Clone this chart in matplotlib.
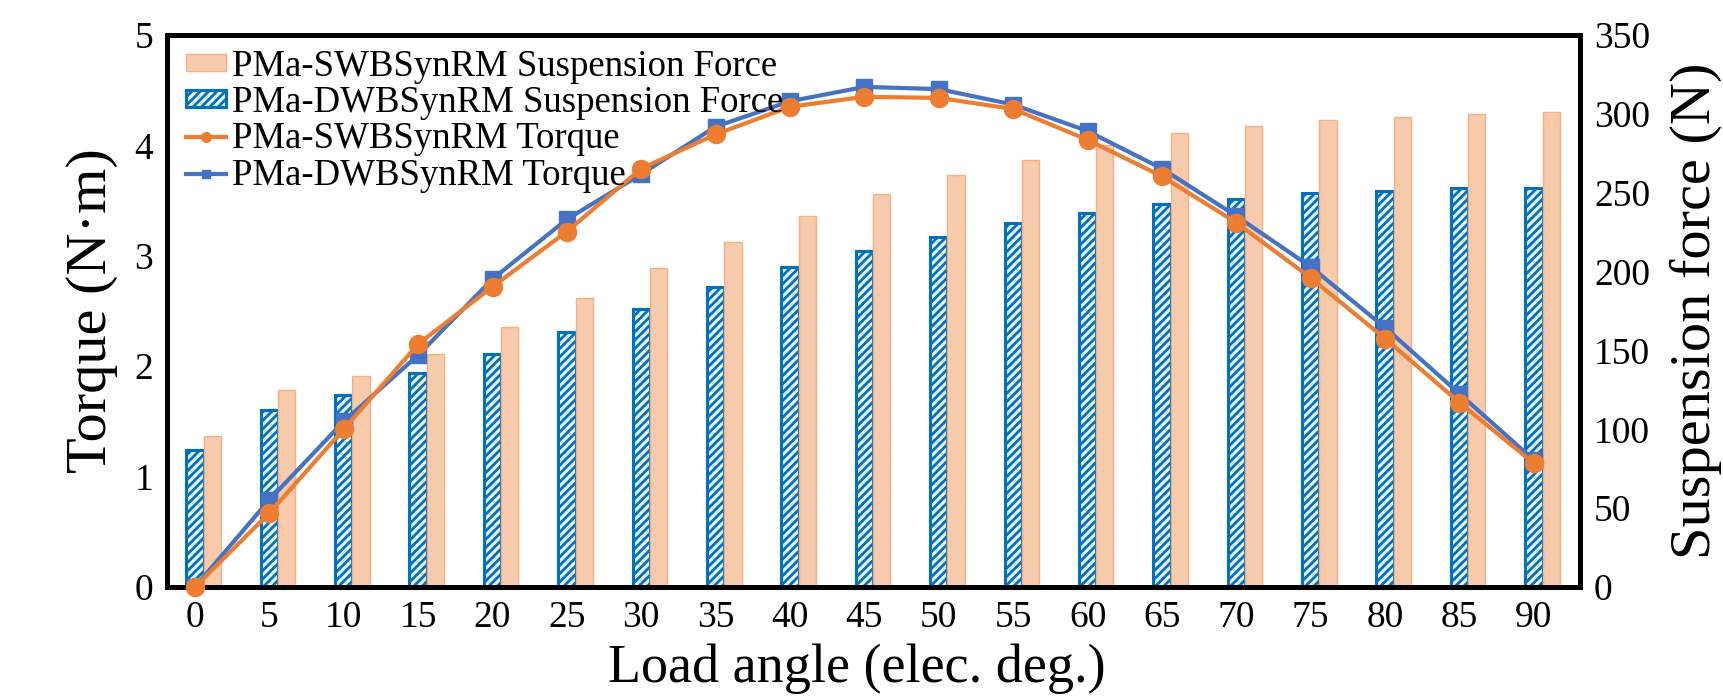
import matplotlib
matplotlib.use("Agg")
import matplotlib.pyplot as plt
import numpy as np
from matplotlib.patches import Patch
from matplotlib.lines import Line2D

plt.rcParams['font.family'] = ['Liberation Serif', 'DejaVu Serif']
plt.rcParams['hatch.linewidth'] = 2.0

# ---- data ----
angles = [0, 5, 10, 15, 20, 25, 30, 35, 40, 45, 50, 55, 60, 65, 70, 75, 80, 85, 90]
dwb_force = [87, 112, 122, 136, 148, 162, 176, 190, 203, 213, 222, 231, 237, 243, 246, 250, 251, 253, 253]
swb_force = [96, 125, 134, 148, 165, 183, 202, 219, 235, 249, 261, 271, 280, 288, 292, 296, 298, 300, 301]
swb_torque = [0.0, 0.67, 1.43, 2.20, 2.72, 3.22, 3.79, 4.10, 4.35, 4.44, 4.43, 4.33, 4.05, 3.72, 3.30, 2.80, 2.25, 1.67, 1.12]
dwb_torque = [0.0, 0.79, 1.50, 2.10, 2.79, 3.33, 3.74, 4.17, 4.40, 4.53, 4.51, 4.37, 4.13, 3.79, 3.36, 2.90, 2.35, 1.75, 1.15]
torque_ticks = [0, 1, 2, 3, 4, 5]
force_ticks = [0, 50, 100, 150, 200, 250, 300, 350]

labels = ['PMa-SWBSynRM Suspension Force', 'PMa-DWBSynRM Suspension Force',
          'PMa-SWBSynRM Torque', 'PMa-DWBSynRM Torque']

blue_bar = '#0070C0'
blue_bar_face = '#EAF6FD'
orange_bar_face = '#F8CBAD'
orange_bar_edge = '#F4B183'
orange_line = '#ED7D31'
blue_line = '#4472C4'

fig = plt.figure(figsize=(17.23, 6.99), dpi=100)
ax = fig.add_axes([167/1723, 1-587/699, (1580-167)/1723, (587-35)/699])
ax2 = ax.twinx()

x = np.arange(len(angles))
w = 0.232

ax2.bar(x, dwb_force, width=w, facecolor=blue_bar_face, edgecolor=blue_bar,
        linewidth=2.2, hatch='////', zorder=2)
ax2.bar(x + w, swb_force, width=w, facecolor=orange_bar_face, edgecolor=orange_bar_edge,
        linewidth=1.0, zorder=2)
ax2.set_ylim(0, 350)
ax2.set_yticks(force_ticks)

ax.plot(x, dwb_torque, color=blue_line, linewidth=3.0, marker='s', markersize=12,
        zorder=3)
ax.plot(x, swb_torque, color=orange_line, linewidth=3.0, marker='o', markersize=13,
        zorder=4, clip_on=False)
ax.set_ylim(0, 5)
ax.set_yticks(torque_ticks)
ax.set_xlim(-0.376, 18.62)
ax.set_xticks(x)
ax.set_xticklabels([str(a) for a in angles])

ax.set_zorder(ax2.get_zorder() + 1)
ax.patch.set_visible(False)

for a in (ax, ax2):
    a.tick_params(axis='both', length=0, labelsize=27, pad=10)
    for s in a.spines.values():
        s.set_linewidth(3.6)
        s.set_color('black')

ax.set_xlabel('Load angle (elec. deg.)', fontsize=39)
ax.xaxis.set_label_coords((857-167)/1413, -(643-587)/552)
ax.set_ylabel('Torque (N·m)', fontsize=42, labelpad=12)
ax2.set_ylabel('Suspension force (N)', fontsize=42, labelpad=14)

handles = [
    Patch(facecolor=orange_bar_face, edgecolor=orange_bar_edge, linewidth=1.0),
    Patch(facecolor=blue_bar_face, edgecolor=blue_bar, linewidth=2.2, hatch='////'),
    Line2D([0], [0], color=orange_line, linewidth=3.0, marker='o', markersize=7),
    Line2D([0], [0], color=blue_line, linewidth=3.0, marker='s', markersize=6),
]
leg = ax.legend(handles, labels, loc='upper left', bbox_to_anchor=(186/1723, 1-49/699),
                bbox_transform=fig.transFigure, frameon=False, fontsize=26.5,
                handlelength=1.1, handleheight=0.35, handletextpad=0.14,
                labelspacing=0.05, borderpad=0, borderaxespad=0)

fig.savefig('out.png', dpi=100)
